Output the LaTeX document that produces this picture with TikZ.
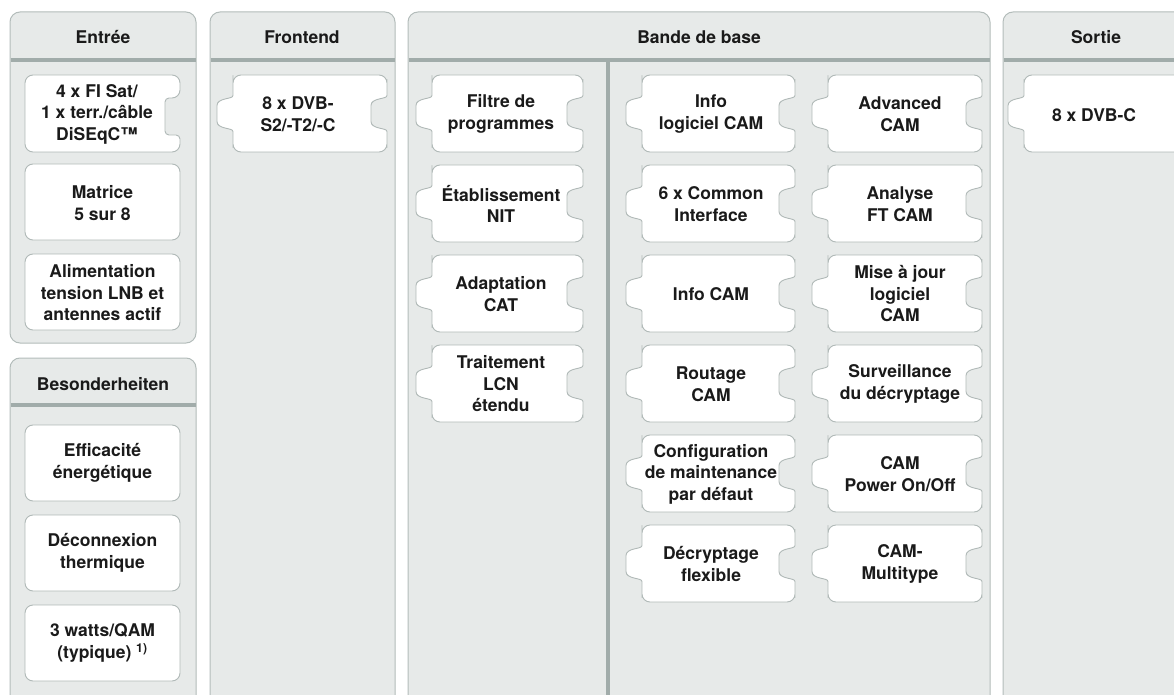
\documentclass[tikz,border=0pt]{standalone}
\usepackage{fontspec}
\setmainfont{TeX Gyre Heros}
\definecolor{panelbg}{HTML}{E7EAE9}
\definecolor{panelline}{HTML}{B3BCBA}
\definecolor{pieceline}{HTML}{B0B9B7}
\definecolor{headgray}{HTML}{A1ACAA}
\definecolor{txt}{HTML}{1A1A1A}
\tikzset{
  panel/.style={draw=panelline, fill=panelbg, line width=1pt, rounded corners=10pt},
  piece/.style={draw=pieceline, fill=white, line width=0.9pt, rounded corners=8pt},
  headline/.style={draw=headgray, line width=4pt},
  headtext/.style={font=\bfseries\fontsize{17.5}{21}\selectfont, text=txt, inner sep=0pt, anchor=base},
  boxtext/.style={font=\bfseries\fontsize{17.5}{21.5}\selectfont, text=txt, align=center, inner sep=0pt},
}
% puzzle piece: #1 left, #2 top, #3 width (tab on the left, slot on the right)
\newcommand{\puzzle}[3]{%
  \pgfmathsetmacro{\pzR}{#1+#3}%
  \pgfmathsetmacro{\pzM}{#2+38.5}%
  \pgfmathsetmacro{\pzB}{#2+77}%
  \draw[piece] (#1,\pzM-30) -- (#1,#2) -- (\pzR,#2) -- (\pzR,\pzM-26)
    .. controls (\pzR,\pzM-14) and (\pzR-16,\pzM-16) .. (\pzR-16,\pzM)
    .. controls (\pzR-16,\pzM+16) and (\pzR,\pzM+14) .. (\pzR,\pzM+26)
    -- (\pzR,\pzB) -- (#1,\pzB) -- (#1,\pzM+26)
    .. controls (#1,\pzM+14) and (#1-16,\pzM+16) .. (#1-16,\pzM)
    .. controls (#1-16,\pzM-16) and (#1,\pzM-14) .. (#1,\pzM-26) -- cycle;}
% plain box: #1 left, #2 top
\newcommand{\plainbox}[2]{%
  \draw[piece] (#1,#2) rectangle (#1+155,#2+76);}

\begin{document}
\begin{tikzpicture}[x=1pt, y=-1pt, line join=round]
  \useasboundingbox (0,0) rectangle (1174,695);
  \clip (0,0) rectangle (1174,695);

  % columns
  \draw[panel] (10,12) rectangle (196,343);
  \draw[panel] (10,720) -- (10,358) -- (196,358) -- (196,720);
  \draw[panel] (210,720) -- (210,12) -- (395,12) -- (395,720);
  \draw[panel] (408,720) -- (408,12) -- (990,12) -- (990,720);
  \draw[panel] (1003,720) -- (1003,12) -- (1200,12) -- (1200,720);

  \draw[headline] (10.5,60) -- (195.5,60);
  \draw[headline] (10.5,405) -- (195.5,405);
  \draw[headline] (210.5,60) -- (394.5,60);
  \draw[headline] (408.5,60) -- (989.5,60);
  \draw[headline] (1003.5,60) -- (1200,60);
  \draw[headgray, line width=3.5pt] (608,60) -- (608,720);

  \node[headtext] (entree) at (103,43.5) {Entrée};
  \node[headtext] (besond) at (103,390) {Besonderheiten};
  \node[headtext] (frontend) at (302,43.5) {Frontend};
  \node[headtext] (bande) at (699,43.5) {Bande de base};
  \node[headtext] (sortie) at (1096,43.5) {Sortie};

  % Entree
  \draw[piece] (25,100) -- (25,75) -- (180,75) -- (180,98) [rounded corners=4pt]
    -- (165,98) -- (165,135) -- (180,135) [rounded corners=8pt] -- (180,152) -- (25,152) -- cycle;
  \node[boxtext] (in1) at (97,114) {4 x FI Sat/\\1 x terr./câble\\DiSEqC™};
  \plainbox{25}{164}
  \node[boxtext] (in2) at (102.5,203) {Matrice\\5 sur 8};
  \plainbox{25}{254}
  \node[boxtext] (in3) at (102.5,293) {Alimentation\\tension LNB et\\antennes actif};

  % Besonderheiten
  \foreach \t [count=\i] in {Efficacité\\énergétique, Déconnexion\\thermique, 3 watts/QAM\\(typique) \textsuperscript{1)}}{
    \pgfmathsetmacro{\y}{425+90*(\i-1)}
    \plainbox{25}{\y}
    \node[boxtext] (sp\i) at (102.5,\y+38) {\t};
  }

  % Frontend
  \puzzle{233}{75}{154}
  \node[boxtext] (fe1) at (298,114) {8 x DVB-\\S2/-T2/-C};

  % Bande de base
  \foreach \t [count=\i] in {Filtre de\\programmes, Établissement\\NIT, Adaptation\\CAT, Traitement\\LCN\\étendu}{
    \pgfmathsetmacro{\y}{75+90*(\i-1)}
    \puzzle{432}{\y}{151}
    \node[boxtext] (bbL\i) at (501,\y+39) {\t};
  }
  \foreach \t [count=\i] in {Info\\logiciel CAM, 6 x Common\\Interface, Info CAM, Routage\\CAM,
      Configuration\\de maintenance\\par défaut, Décryptage\\flexible}{
    \pgfmathsetmacro{\y}{75+90*(\i-1)}
    \puzzle{642}{\y}{153}
    \node[boxtext] (bbA\i) at (711,\y+39) {\t};
  }
  \foreach \t [count=\i] in {Advanced\\CAM, Analyse\\FT CAM, Mise à jour\\logiciel\\CAM, Surveillance\\du décryptage,
      CAM\\Power On/Off, CAM-\\Multitype}{
    \pgfmathsetmacro{\y}{75+90*(\i-1)}
    \puzzle{828}{\y}{154}
    \node[boxtext] (bbB\i) at (900,\y+39) {\t};
  }

  % Sortie
  \draw[piece] (1200,75) -- (1024,75) -- (1024,87.5)
    .. controls (1024,99.5) and (1008,97.5) .. (1008,113.5)
    .. controls (1008,129.5) and (1024,127.5) .. (1024,139.5) -- (1024,152) -- (1200,152);
  \node[boxtext] (out1) at (1094,115) {8 x DVB-C};
\end{tikzpicture}
\end{document}
